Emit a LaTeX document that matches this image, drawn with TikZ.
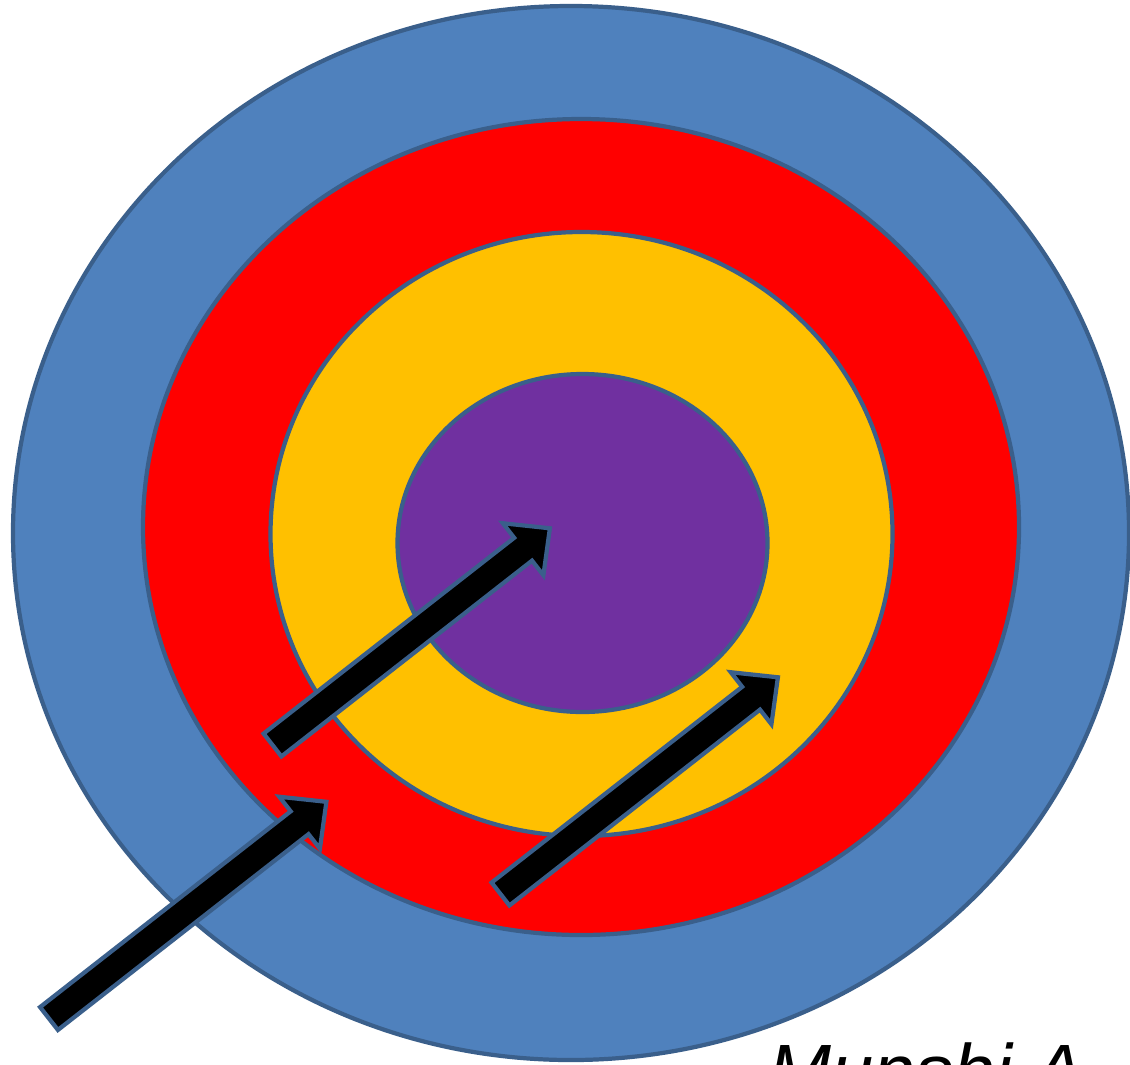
\documentclass[tikz,border=0pt]{standalone}
\usepackage{fontspec}
\setsansfont{Liberation Sans}
\definecolor{ringline}{HTML}{3A5F8B}
\definecolor{ringblue}{HTML}{4F81BD}
\definecolor{ringred}{HTML}{FF0000}
\definecolor{ringgold}{HTML}{FFC000}
\definecolor{ringpurple}{HTML}{7030A0}
\tikzset{ring/.style={draw=ringline, line width=1.2pt}}
\begin{document}
\begin{tikzpicture}
  \useasboundingbox (0,0) rectangle (11.3,10.64);
  \clip (0,0) rectangle (11.3,10.64);
  \fill[white] (0,0) rectangle (11.3,10.64);
  % target rings
  \filldraw[ring, fill=ringblue] (5.71,5.31) ellipse [x radius=5.58, y radius=5.27];
  \filldraw[ring, fill=ringred] (5.81,5.37) ellipse [x radius=4.38, y radius=4.08];
  \filldraw[ring, fill=ringgold] (5.815,5.30) ellipse [x radius=3.11, y radius=3.02];
  \filldraw[ring, fill=ringpurple] (5.825,5.21) ellipse [x radius=1.85, y radius=1.69];
  % block arrows
  \foreach \x/\y in {2.725/3.19, 0.49/0.455, 5.005/1.70}
    \filldraw[ring, fill=black, shift={(\x,\y)}, rotate=38]
      (0,-0.145) -- (3.18,-0.145) -- (3.18,-0.33) -- (3.52,0)
      -- (3.18,0.33) -- (3.18,0.145) -- (0,0.145) -- cycle;
  \node[anchor=base west, inner sep=0,
        font=\sffamily\itshape\fontsize{21.5}{25}\selectfont] (sig) at (7.68,-0.33) {Munshi A};
\end{tikzpicture}
\end{document}
